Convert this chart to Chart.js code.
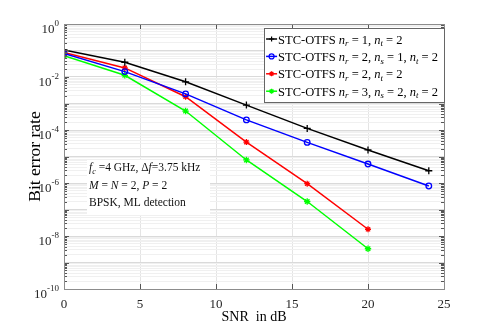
<!DOCTYPE html>
<html><head><meta charset="utf-8">
<script src="https://cdn.jsdelivr.net/npm/chart.js@4/dist/chart.umd.min.js"></script>
<style>html,body{margin:0;padding:0;background:#fff;}canvas{display:block;}</style>
</head><body>
<canvas id="c" width="491" height="327"></canvas>
<script>
// ---- data ----
const snr = [0, 4, 8, 12, 16, 20, 24];
const berBlack = [0.105, 0.036, 6.6e-3, 8.7e-4, 1.15e-4, 1.77e-5, 2.9e-6];
const berBlue  = [0.078, 0.016, 2.3e-3, 2.4e-4, 3.4e-5, 5.2e-6, 7.7e-7];
const berRed   = [0.085, 0.022, 1.8e-3, 3.5e-5, 9.4e-7, 1.8e-8];
const berGreen = [0.063, 0.0116, 5.2e-4, 7.4e-6, 2.0e-7, 3.3e-9];
const seriesLabels = [
  "STC-OTFS {n}_r = 1, {n}_t = 2",
  "STC-OTFS {n}_r = 2, {n}_s = 1, {n}_t = 2",
  "STC-OTFS {n}_r = 2, {n}_t = 2",
  "STC-OTFS {n}_r = 3, {n}_s = 2, {n}_t = 2"
];
const xTicks = [0, 5, 10, 15, 20, 25];
const yTickExponents = [0, -2, -4, -6, -8, -10];
const annotationLines = [
  "{f}_c =4 GHz, \u0394{f}=3.75 kHz",
  "{M} = {N} = 2, {P} = 2",
  "BPSK, ML detection"
];
const xTitle = "SNR  in dB";
const yTitle = "Bit error rate";

const FONT = '"Liberation Serif", "Times New Roman", serif';

function parseRich(s){
  const out=[]; let i=0, buf='';
  while(i<s.length){
    const ch=s[i];
    if(ch==='{'){ if(buf){out.push({t:buf});buf='';} const j=s.indexOf('}',i); out.push({t:s.slice(i+1,j),it:true}); i=j+1; }
    else if(ch==='_'){ if(buf){out.push({t:buf});buf='';} out.push({t:s[i+1],it:true,sub:true}); i+=2; }
    else {buf+=ch;i++;}
  }
  if(buf) out.push({t:buf});
  return out;
}
function richWidth(ctx, segs, size){
  let w=0;
  for(const s of segs){ const fs=s.sub?size*0.7:size; ctx.font=(s.it?'italic ':'')+fs+'px '+FONT; w+=ctx.measureText(s.t).width; }
  return w;
}
function drawRich(ctx, segs, x, y, size){
  for(const s of segs){
    const fs=s.sub?size*0.7:size;
    ctx.font=(s.it?'italic ':'')+fs+'px '+FONT;
    ctx.fillText(s.t, x, y+(s.sub?size*0.22:0));
    x+=ctx.measureText(s.t).width;
  }
  return x;
}

function pts(vals){ return vals.map((v,i)=>({x:snr[i], y:v})); }

const colors = ['#000000','#0000ff','#ff0000','#00ff00'];
const styles = ['cross','circle','star','star'];
const radii = [3.5, 2.8, 3, 3.2];
const seriesData = [berBlack, berBlue, berRed, berGreen];

const datasets = seriesData.map((d,i)=>({
  label: seriesLabels[i],
  data: pts(d),
  borderColor: colors[i],
  backgroundColor: 'rgba(0,0,0,0)',
  borderWidth: 1.5,
  pointStyle: styles[i],
  pointRadius: radii[i],
  pointBorderWidth: 1.3,
  pointBorderColor: colors[i],
  pointBackgroundColor: 'rgba(0,0,0,0)',
  tension: 0
}));

const overlay = {
  id: 'overlay',
  afterDraw(chart){
    const ctx = chart.ctx, ca = chart.chartArea;
    const xs = chart.scales.x, ys = chart.scales.y;
    ctx.save();
    // inward tick marks
    ctx.strokeStyle = '#555'; ctx.lineWidth = 1;
    ctx.beginPath();
    for(const t of ys.ticks){
      const py = Math.round(ys.getPixelForValue(t.value))+0.5;
      const major = Math.abs(Math.log10(t.value)-Math.round(Math.log10(t.value)))<1e-6;
      const L = major?5:3;
      ctx.moveTo(ca.left, py); ctx.lineTo(ca.left+L, py);
      ctx.moveTo(ca.right, py); ctx.lineTo(ca.right-L, py);
    }
    for(const v of xTicks){
      const px = Math.round(xs.getPixelForValue(v))+0.5;
      ctx.moveTo(px, ca.bottom); ctx.lineTo(px, ca.bottom-5);
      ctx.moveTo(px, ca.top); ctx.lineTo(px, ca.top+5);
    }
    ctx.stroke();
    // box
    ctx.strokeStyle = '#8c8c8c';
    ctx.strokeRect(Math.round(ca.left)+0.5, Math.round(ca.top)+0.5, Math.round(ca.right-ca.left), Math.round(ca.bottom-ca.top));

    // y tick labels 10^e
    ctx.fillStyle = '#262626';
    ctx.textBaseline = 'alphabetic';
    ctx.textAlign = 'left';
    for(const e of yTickExponents){
      const py = ys.getPixelForValue(Math.pow(10,e));
      const expStr = (e<0?'-':'')+Math.abs(e);
      ctx.font = '9px '+FONT;
      const ew = ctx.measureText(expStr).width;
      ctx.font = '13px '+FONT;
      const bw = ctx.measureText('10').width;
      const right = ca.left - 5;
      ctx.fillText('10', right-ew-bw, py+9);
      ctx.font = '9px '+FONT;
      ctx.fillText(expStr, right-ew, py+2);
    }
    // axis titles
    ctx.fillStyle = '#000';
    ctx.font = '14px '+FONT;
    ctx.textAlign = 'center';
    ctx.fillText(xTitle, (ca.left+ca.right)/2, 321);
    ctx.save();
    ctx.translate(35, (ca.top+ca.bottom)/2);
    ctx.rotate(-Math.PI/2);
    ctx.font = '17.5px '+FONT;
    ctx.textBaseline = 'middle';
    ctx.fillText(yTitle, 0, 0);
    ctx.restore();

    // annotation box
    ctx.textAlign = 'left';
    ctx.textBaseline = 'alphabetic';
    const ax = ca.left+23, ay = ca.top+136;
    ctx.fillStyle = '#fff';
    ctx.fillRect(ax, ay, 123, 55);
    ctx.fillStyle = '#111';
    annotationLines.forEach((l,i)=>{
      drawRich(ctx, parseRich(l), ax+2, ay+11+i*17.5, 11.5);
    });

    // legend
    const lsize = 12.5;
    const segsAll = seriesLabels.map(parseRich);
    let maxW = 0; segsAll.forEach(s=>{ maxW = Math.max(maxW, richWidth(ctx,s,lsize)); });
    const lw = 14 + maxW + 6, lh = 74;
    const lx = ca.right - lw, ly = ca.top + 4;
    ctx.fillStyle = '#fff';
    ctx.fillRect(lx, ly, lw, lh);
    ctx.strokeStyle = '#666';
    ctx.lineWidth = 1;
    ctx.strokeRect(Math.round(lx)+0.5, Math.round(ly)+0.5, Math.round(lw), lh);
    chart.data.datasets.forEach((ds,i)=>{
      const cy = ly + 11 + i*17.4;
      ctx.strokeStyle = ds.borderColor; ctx.lineWidth = 1.5;
      ctx.beginPath(); ctx.moveTo(lx+2, cy); ctx.lineTo(lx+13, cy); ctx.stroke();
      ctx.lineWidth = 1.2;
      ctx.fillStyle = 'rgba(0,0,0,0)';
      Chart.helpers.drawPoint(ctx, {pointStyle: ds.pointStyle, radius: 2.5, borderWidth: 1.2, rotation: 0}, lx+7.5, cy);
      ctx.fillStyle = '#000';
      drawRich(ctx, segsAll[i], lx+14, cy+4.5, lsize);
    });
    ctx.restore();
  }
};

new Chart(document.getElementById('c'), {
  type: 'line',
  data: { datasets },
  options: {
    responsive: false,
    devicePixelRatio: 1,
    animation: false,
    layout: { padding: { left: 0, top: 24, right: 47, bottom: 0 } },
    plugins: { legend: { display: false }, tooltip: { enabled: false } },
    scales: {
      x: {
        type: 'linear', min: 0, max: 25,
        afterBuildTicks(scale){ scale.ticks = xTicks.map(v=>({value:v})); },
        afterFit(scale){ scale.height = 38; },
        grid: { color: '#e4e4e4', drawTicks: false },
        border: { display: false },
        ticks: { font: { family: FONT, size: 13 }, color: '#262626', padding: 8, maxRotation: 0, autoSkip: false }
      },
      y: {
        type: 'logarithmic', min: 1e-10, max: 1,
        afterBuildTicks(scale){
          const t = [];
          const lo = Math.min(...yTickExponents), hi = Math.max(...yTickExponents);
          for(let e=lo; e<hi; e++){ for(let m=1; m<=9; m++){ t.push({value: m*Math.pow(10,e)}); } }
          t.push({value: Math.pow(10,hi)});
          scale.ticks = t;
        },
        afterFit(scale){ scale.width = 64; },
        grid: {
          drawTicks: false,
          color(c){ const v=c.tick&&c.tick.value; if(!v) return '#eee'; const l=Math.log10(v); return Math.abs(l-Math.round(l))<1e-6 ? '#dadada' : '#f0f0f0'; }
        },
        border: { display: false },
        ticks: { display: false, autoSkip: false }
      }
    }
  },
  plugins: [overlay]
});
</script>
</body></html>
